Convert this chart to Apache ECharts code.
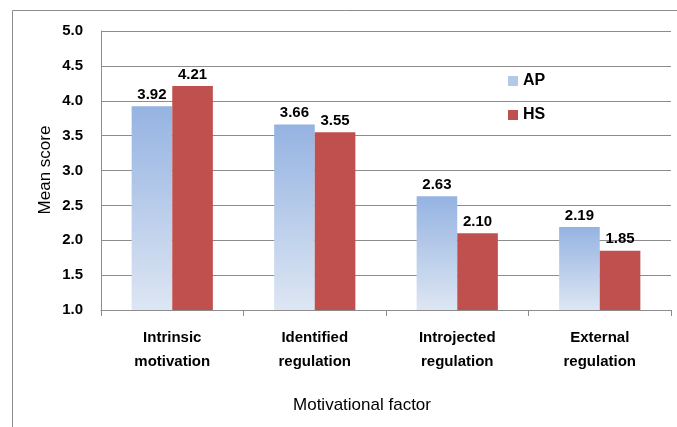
<!DOCTYPE html>
<html>
<head>
<meta charset="utf-8">
<script src="https://cdn.jsdelivr.net/npm/echarts@6/dist/echarts.min.js"></script>
<style>
  html, body { margin: 0; padding: 0; background: #fff; }
  #chart { width: 677px; height: 427px; }
</style>
</head>
<body>
<div id="chart"></div>
<script>
// data
var categories = ['Intrinsic\nmotivation', 'Identified\nregulation', 'Introjected\nregulation', 'External\nregulation'];
var apValues = [3.92, 3.66, 2.63, 2.19];
var hsValues = [4.21, 3.55, 2.10, 1.85];
var yTicks = [1.0, 1.5, 2.0, 2.5, 3.0, 3.5, 4.0, 4.5, 5.0];

var font = 'Liberation Sans, Arial, sans-serif';
var myChart = echarts.init(document.getElementById('chart'));

var option = {
  backgroundColor: '#fff',
  animation: false,
  graphic: [
    {
      // outer chart frame
      type: 'rect',
      shape: { x: 12.5, y: 10.5, width: 700, height: 450 },
      style: { fill: 'none', stroke: '#8c8c8c', lineWidth: 1 }
    },
    {
      type: 'text',
      x: 45,
      y: 170,
      rotation: Math.PI / 2,
      style: {
        text: 'Mean score',
        fontFamily: font,
        fontSize: 17,
        fill: '#000',
        align: 'center',
        verticalAlign: 'middle'
      }
    },
    {
      type: 'text',
      x: 362,
      y: 405,
      style: {
        text: 'Motivational factor',
        fontFamily: font,
        fontSize: 17,
        fill: '#000',
        align: 'center',
        verticalAlign: 'middle'
      }
    }
  ],
  legend: {
    data: [
      { name: 'AP', itemStyle: { color: '#b4c8ea' } },
      { name: 'HS' }
    ],
    orient: 'vertical',
    left: 503,
    top: 68,
    itemWidth: 10,
    itemHeight: 10,
    itemGap: 18,
    icon: 'rect',
    textStyle: { fontFamily: font, fontSize: 16, fontWeight: 'bold', color: '#000' }
  },
  grid: {
    left: 101,
    right: 6,
    top: 31,
    bottom: 117,
    containLabel: false
  },
  xAxis: {
    type: 'category',
    data: categories,
    axisLine: { show: true, lineStyle: { color: '#8c8c8c' } },
    axisTick: { show: true, length: 6, lineStyle: { color: '#8c8c8c' } },
    axisLabel: {
      margin: 16,
      fontFamily: font,
      fontSize: 15,
      fontWeight: 'bold',
      color: '#000',
      lineHeight: 24
    }
  },
  yAxis: {
    type: 'value',
    min: 1,
    max: 5,
    interval: 0.5,
    axisLine: { show: true, lineStyle: { color: '#8c8c8c' } },
    axisTick: { show: false },
    axisLabel: {
      margin: 18,
      fontFamily: font,
      fontSize: 15,
      fontWeight: 'bold',
      color: '#000',
      formatter: function (v) { return v.toFixed(1); }
    },
    splitLine: { show: true, lineStyle: { color: '#8c8c8c', width: 1 } }
  },
  series: [
    {
      name: 'AP',
      type: 'bar',
      data: apValues,
      barGap: '0%',
      barCategoryGap: '43%',
      itemStyle: {
        color: new echarts.graphic.LinearGradient(0, 0, 0, 1, [
          { offset: 0, color: '#95b3e2' },
          { offset: 1, color: '#dde6f3' }
        ])
      },
      label: {
        show: true,
        position: 'top',
        distance: 4,
        fontFamily: font,
        fontSize: 15,
        fontWeight: 'bold',
        color: '#000',
        formatter: function (p) { return p.value.toFixed(2); }
      }
    },
    {
      name: 'HS',
      type: 'bar',
      data: hsValues,
      itemStyle: { color: '#c0504d' },
      label: {
        show: true,
        position: 'top',
        distance: 4,
        fontFamily: font,
        fontSize: 15,
        fontWeight: 'bold',
        color: '#000',
        formatter: function (p) { return p.value.toFixed(2); }
      }
    }
  ]
};

myChart.setOption(option);
</script>
</body>
</html>
